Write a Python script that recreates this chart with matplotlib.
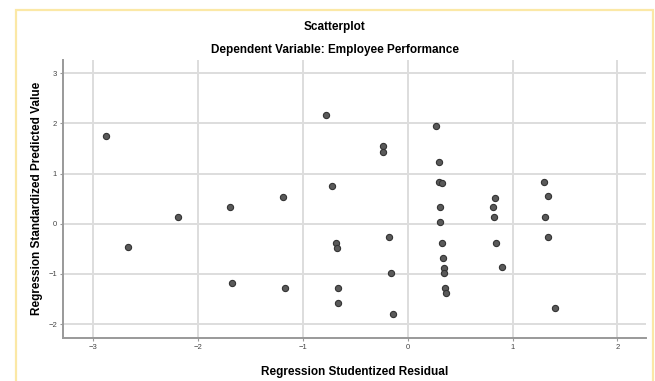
import matplotlib
matplotlib.use("Agg")
import matplotlib.pyplot as plt
from matplotlib.patches import Rectangle

plt.rcParams['font.family'] = ['Liberation Sans', 'DejaVu Sans']

# studentized residual vs standardized predicted value
resid = [-2.87, -2.66, -2.19, -1.69, -1.67, -1.19, -1.17, -0.78, -0.72, -0.68,
         -0.67, -0.66, -0.66, -0.23, -0.23, -0.18, -0.16, -0.14, 0.27, 0.30,
         0.30, 0.33, 0.31, 0.31, 0.33, 0.34, 0.35, 0.35, 0.36, 0.37,
         0.83, 0.81, 0.82, 0.84, 0.90, 1.30, 1.34, 1.31, 1.34, 1.40]
pred = [1.75, -0.47, 0.13, 0.33, -1.18, 0.53, -1.28, 2.16, 0.75, -0.38,
        -0.48, -1.28, -1.58, 1.54, 1.43, -0.27, -0.98, -1.80, 1.94, 1.22,
        0.84, 0.82, 0.33, 0.03, -0.38, -0.68, -0.88, -0.98, -1.28, -1.38,
        0.52, 0.33, 0.13, -0.38, -0.86, 0.84, 0.55, 0.13, -0.27, -1.68]
xticks = [-3, -2, -1, 0, 1, 2]
yticks = [-2, -1, 0, 1, 2, 3]

fig = plt.figure(figsize=(6.55, 3.81), dpi=100)
ax = fig.add_axes([0.0966, 0.1136, 0.8894, 0.7289])

# light yellow frame around the output
fig.patches.append(Rectangle((0.0244, -0.02), 0.9725, 0.994, transform=fig.transFigure,
                             fill=False, edgecolor='#fbe8a6', linewidth=1.6))

ax.scatter(resid, pred, s=20, color='#5a5a5a', edgecolors='#333333',
           linewidths=0.8, zorder=3)

ax.set_xlim(-3.28, 2.27)
ax.set_ylim(-2.27, 3.26)
ax.set_xticks(xticks)
ax.set_yticks(yticks)
ax.grid(True, color='#dddddd', linewidth=1.4)
ax.set_axisbelow(True)

for side in ['top', 'right']:
    ax.spines[side].set_visible(False)
for side in ['left', 'bottom']:
    ax.spines[side].set_color('#999999')
    ax.spines[side].set_linewidth(1.4)
ax.tick_params(axis='both', labelsize=5.5, colors='#999999', labelcolor='#444444',
               length=2, width=0.8, pad=2.5)

ax.set_xlabel('Regression Studentized Residual', fontsize=8.5, fontweight='bold',
              labelpad=11)
ax.set_ylabel('Regression Standardized Predicted Value', fontsize=8.5,
              fontweight='bold', labelpad=4)

fig.text(0.511, 0.928, 'Scatterplot', ha='center', va='center', fontsize=8.5,
         fontweight='bold')
fig.text(0.511, 0.87, 'Dependent Variable: Employee Performance', ha='center',
         va='center', fontsize=8.5, fontweight='bold')

fig.savefig('out.png', dpi=100)
